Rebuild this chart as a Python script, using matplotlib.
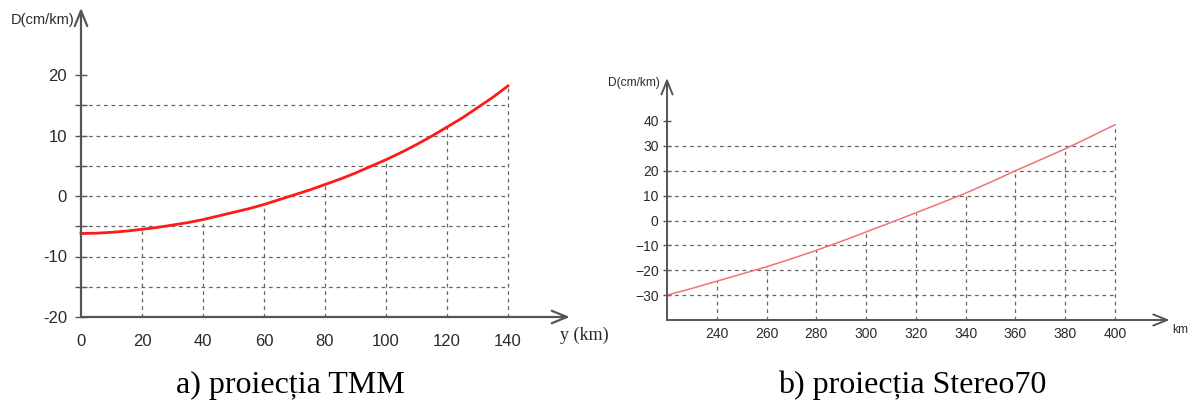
import numpy as np
import matplotlib.pyplot as plt

# a) TMM projection
tmm_y = [0, 5, 10, 15, 20, 25, 30, 35, 40, 45, 50, 55, 60, 65, 70,
         75, 80, 85, 90, 95, 100, 105, 110, 115, 120, 125, 130, 135, 140]
tmm_d = [-6.2, -6.15, -6.0, -5.8, -5.5, -5.2, -4.8, -4.4, -3.9, -3.3, -2.7, -2.1, -1.4, -0.6, 0.2,
         1.0, 1.9, 2.8, 3.8, 4.9, 6.0, 7.2, 8.5, 9.9, 11.4, 12.9, 14.6, 16.3, 18.2]
tmm_xticks = [0, 20, 40, 60, 80, 100, 120, 140]
tmm_yticks = [-20, -15, -10, -5, 0, 5, 10, 15, 20]
tmm_ylabels = ['-20', '', '-10', '', '0', '', '10', '', '20']
tmm_hgrid = [-15, -10, -5, 0, 5, 10, 15]

# b) Stereo70 projection
st_x = [220, 230, 240, 250, 260, 270, 280, 290, 300, 310,
        320, 330, 340, 350, 360, 370, 380, 390, 400]
st_d = [-30.0, -27.3, -24.4, -21.5, -18.6, -15.4, -12.0, -8.4, -4.6, -0.8,
        3.1, 7.0, 11.0, 15.4, 20.0, 24.4, 28.8, 33.6, 38.5]
st_xticks = [240, 260, 280, 300, 320, 340, 360, 380, 400]
st_yticks = [-30, -20, -10, 0, 10, 20, 30, 40]
st_hgrid = [-30, -20, -10, 0, 10, 20, 30]

W, H = 1191, 401
fig = plt.figure(figsize=(W / 100, H / 100), dpi=100)
plt.rcParams['font.family'] = ['Liberation Sans', 'DejaVu Sans']


def place(px0, v0, px1, v1, py0, w0, py1, w1, xlim, ylim):
    # px/py are pixel positions (py downwards) of data values v/w
    sx = (px1 - px0) / (v1 - v0)
    sy = (py0 - py1) / (w1 - w0)
    left = px0 + (xlim[0] - v0) * sx
    right = px0 + (xlim[1] - v0) * sx
    bottom = py0 - (ylim[0] - w0) * sy
    top = py0 - (ylim[1] - w0) * sy
    ax = fig.add_axes([left / W, 1 - bottom / H, (right - left) / W, (bottom - top) / H])
    ax.set_xlim(xlim)
    ax.set_ylim(ylim)
    ax.patch.set_visible(False)
    return ax


grid_kw = dict(colors='#666666', linestyles=(0, (3, 3)), linewidth=0.9)
axis_col = '#555555'
txt_col = '#2a2a2a'

# ---- left chart
ax = place(81, 0, 508, 140, 317, -20, 75, 20, (-8, 165), (-23, 32))
for s in ax.spines.values():
    s.set_visible(False)
ax.spines['left'].set_position(('data', 0))
ax.spines['bottom'].set_position(('data', -20))
ax.hlines(tmm_hgrid, 0, 140, **grid_kw)
vx = tmm_xticks[1:]
ax.vlines(vx, -20, [tmm_d[tmm_y.index(v)] for v in vx], **grid_kw)
ax.plot(tmm_y, tmm_d, color='#ff1a1a', lw=2, solid_joinstyle='round')
ax.annotate('', xy=(0, 31.1), xytext=(0, -20),
            arrowprops=dict(arrowstyle='->,head_length=1.1,head_width=0.45', color=axis_col, lw=1.6, shrinkA=0, shrinkB=0))
ax.annotate('', xy=(160.3, -20), xytext=(0, -20),
            arrowprops=dict(arrowstyle='->,head_length=1.1,head_width=0.45', color=axis_col, lw=1.6, shrinkA=0, shrinkB=0))
ax.set_xticks(tmm_xticks)
ax.set_yticks(tmm_yticks, tmm_ylabels)
ax.tick_params(axis='y', direction='inout', length=8, width=1, color=axis_col, pad=6, labelsize=12, labelcolor=txt_col)
ax.tick_params(axis='x', length=0, pad=12, labelsize=12, labelcolor=txt_col)
ax.text(-2, 29.1, 'D(cm/km)', ha='right', va='center', fontsize=10.5, color=txt_col)
ax.text(157, -23.1, 'y (km)', ha='left', va='center', fontsize=13, family='Liberation Serif', color=txt_col)

# ---- right chart
ax2 = place(667, 220, 1115, 400, 320, -40, 121, 40, (215, 428), (-42, 59))
for s in ax2.spines.values():
    s.set_visible(False)
ax2.spines['left'].set_position(('data', 220))
ax2.spines['bottom'].set_position(('data', -40))
ax2.hlines(st_hgrid, 220, 400, **grid_kw)
ax2.vlines(st_xticks, -40, [st_d[st_x.index(v)] for v in st_xticks], **grid_kw)
ax2.plot(st_x, st_d, color='#f07272', lw=1.1, solid_joinstyle='round')
ax2.annotate('', xy=(220, 57.3), xytext=(220, -40),
             arrowprops=dict(arrowstyle='->,head_length=1.0,head_width=0.4', color=axis_col, lw=1.4, shrinkA=0, shrinkB=0))
ax2.annotate('', xy=(422, -40), xytext=(220, -40),
             arrowprops=dict(arrowstyle='->,head_length=1.0,head_width=0.4', color=axis_col, lw=1.4, shrinkA=0, shrinkB=0))
ax2.set_xticks(st_xticks)
ax2.set_yticks(st_yticks)
ax2.tick_params(axis='y', direction='inout', length=6, width=1, color=axis_col, pad=3, labelsize=10, labelcolor=txt_col)
ax2.tick_params(axis='x', length=0, pad=5, labelsize=10, labelcolor=txt_col)
ax2.text(217.2, 55.3, 'D(cm/km)', ha='right', va='center', fontsize=8.6, color=txt_col)
ax2.text(423, -44, 'km', ha='left', va='center', fontsize=8.6, color=txt_col)

# captions
fig.text(290 / W, 1 - 385 / H, 'a) proiecția TMM', ha='center', va='center', fontsize=23, family='Liberation Serif')
fig.text(912 / W, 1 - 385 / H, 'b) proiecția Stereo70', ha='center', va='center', fontsize=23, family='Liberation Serif')

fig.savefig('out.png', dpi=100)
